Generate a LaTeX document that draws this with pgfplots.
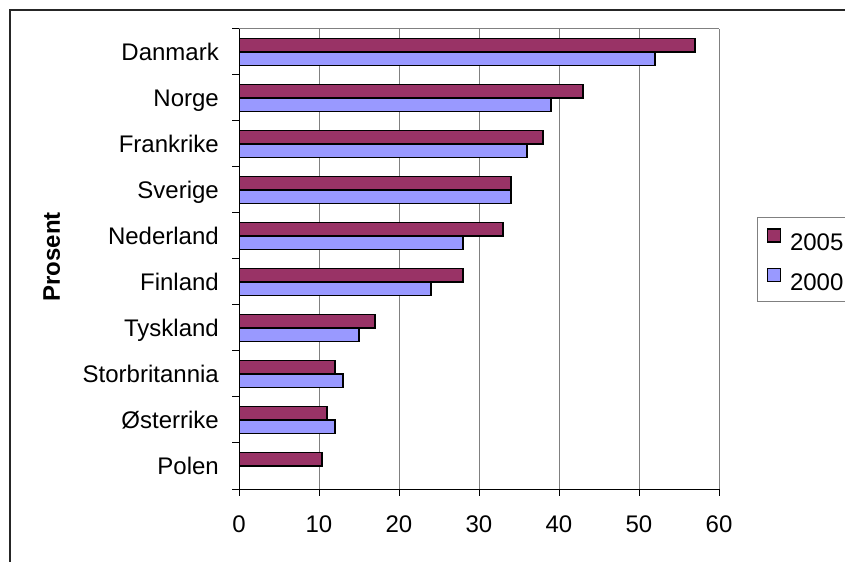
\documentclass[border=0pt]{standalone}
\usepackage{pgfplots}
\pgfplotsset{compat=1.18}
\usepackage{fontspec}
\setmainfont{Liberation Sans}

\definecolor{c2005}{HTML}{993366}
\definecolor{c2000}{HTML}{9999FF}
\definecolor{gridgray}{HTML}{808080}

\newcommand{\chartfont}{\fontsize{24bp}{28bp}\selectfont}

\begin{document}
\begin{tikzpicture}
\useasboundingbox (0bp,0bp) rectangle (845bp,562bp);
\clip (0bp,0bp) rectangle (845bp,562bp);
% outer chart frame (runs off the right and bottom edges)
\draw[line width=1.3bp, black!85] (10bp,552bp) rectangle (900bp,-40bp);
\begin{axis}[
    xbar,
    scale only axis,
    width=480bp, height=460bp,
    at={(239bp,73bp)}, anchor=south west,
    axis lines*=left,
    axis line style={line width=1bp, black},
    xmin=0, xmax=60,
    ymin=-0.5, ymax=9.5,
    xtick={0,10,...,60},
    ytick={-0.5,0.5,...,9.5},
    yticklabels={},
    extra y ticks={0,1,...,9},
    extra y tick labels={Polen,Østerrike,Storbritannia,Tyskland,Finland,Nederland,Sverige,Frankrike,Norge,Danmark},
    extra y tick style={major tick length=0pt, grid=none},
    tick align=outside,
    major tick length=7bp,
    tick style={line width=1bp, black},
    xmajorgrids=true,
    grid style={line width=1bp, gridgray},
    /pgf/number format/assume math mode=true,
    tick label style={font=\chartfont},
    xticklabel style={anchor=north, inner sep=0pt, text height=17.2bp, text depth=0pt, yshift=-19bp},
    yticklabel style={anchor=east, inner sep=0pt, text height=17.2bp, text depth=0pt, xshift=-20bp},
    ylabel={\textbf{Prosent}},
    ylabel style={font=\chartfont, at={(axis description cs:-0.390,0.505)}, anchor=center},
    legend style={font=\chartfont, draw=gridgray, line width=1bp,
        at={(1.0792,0.5913)}, anchor=north west,
        inner xsep=9bp, inner ysep=11bp, row sep=17bp, column sep=9bp,
        nodes={inner sep=0pt, text height=17.2bp, text depth=0pt}},
    legend cell align=left,
    legend image code/.code={\draw[#1, line width=1.5bp] (0bp,0bp) rectangle (13bp,13bp);},
    after end axis/.code={\draw[line width=1bp, gridgray] (rel axis cs:0,1) -- (rel axis cs:1,1);},
]
\addplot[fill=c2005, draw=black, line width=1.5bp, bar width=13.3bp, bar shift=6.65bp] coordinates {
    (10.4,0) (11,1) (12,2) (17,3) (28,4) (33,5) (34,6) (38,7) (43,8) (57,9)
};
\addplot[fill=c2000, draw=black, line width=1.5bp, bar width=13.3bp, bar shift=-6.65bp] coordinates {
    (12,1) (13,2) (15,3) (24,4) (28,5) (34,6) (36,7) (39,8) (52,9)
};
\legend{2005\hspace*{12bp},2000\hspace*{12bp}}
\end{axis}
\end{tikzpicture}
\end{document}
